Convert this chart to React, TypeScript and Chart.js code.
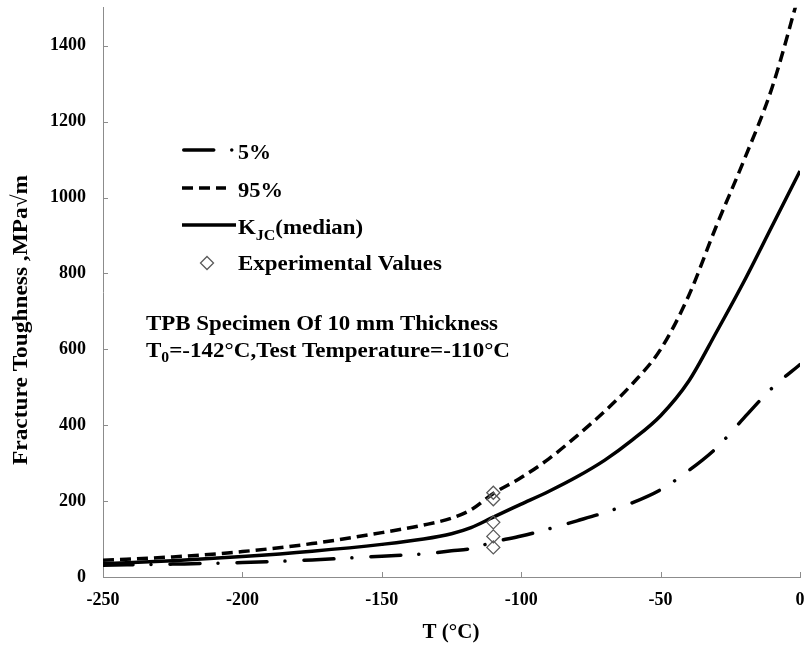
import React, { useEffect, useRef } from 'react';
import { Chart, registerables } from 'chart.js';

Chart.register(...registerables);

// ---- data ----
const temperatures = [-250, -225, -200, -175, -150, -135, -125, -118, -110, -100, -90, -80, -70, -60, -50, -40, -30, -20, -10, 0];
const k5 = [31, 34, 38, 45, 55, 61, 69, 75, 92, 108, 127, 148, 170, 196, 230, 280, 340, 420, 498, 560];
const k95 = [44, 53, 67, 88, 117, 137, 155, 177, 220, 262, 312, 372, 437, 510, 600, 740, 925, 1100, 1290, 1545];
const kMedian = [35, 43, 54, 68, 86, 100, 114, 130, 158, 192, 226, 264, 308, 362, 425, 515, 645, 780, 925, 1070];
const expTemps = [-110, -110, -110, -110, -110];
const expValues = [222, 205, 144, 107, 78];

const xTicks = [-250, -200, -150, -100, -50, 0];
const yTicks = [0, 200, 400, 600, 800, 1000, 1200, 1400];

const seriesNames = ['5%', '95%', 'KJC(median)', 'Experimental Values'];
const xTitle = 'T (°C)';
const yTitle = 'Fracture Toughness ,MPa√m';
const noteLine1 = 'TPB Specimen Of 10 mm Thickness';
const noteLine2 = ['T', '0', '=-142°C,Test Temperature=-110°C'];

const FONT = '"Liberation Serif", "Times New Roman", serif';
const DASH_DOT = [30, 18, 0.01, 19];
const DASHED = [11, 6];
const LW = 3.5;

type Seg = { text: string; size: number; dy: number };

function drawSegs(ctx: CanvasRenderingContext2D, segs: Seg[], x: number, y: number, target?: number, align: 'left' | 'center' = 'left') {
  let total = 0;
  const widths = segs.map((s) => {
    ctx.font = `bold ${s.size}px ${FONT}`;
    const w = ctx.measureText(s.text).width;
    total += w;
    return w;
  });
  const sx = target ? target / total : 1;
  let cx = align === 'center' ? x - (total * sx) / 2 : x;
  segs.forEach((s, i) => {
    ctx.save();
    ctx.font = `bold ${s.size}px ${FONT}`;
    ctx.textAlign = 'left';
    ctx.textBaseline = 'alphabetic';
    ctx.fillStyle = '#000';
    ctx.translate(cx, y + s.dy);
    ctx.scale(sx, 1);
    ctx.fillText(s.text, 0, 0);
    ctx.restore();
    cx += widths[i] * sx;
  });
}

const decorPlugin = {
  id: 'decor',
  beforeDatasetsDraw(chart: any) {
    const { ctx, chartArea, scales } = chart;
    const x = scales.x;
    const y = scales.y;
    ctx.save();
    ctx.strokeStyle = '#8c8c8c';
    ctx.lineWidth = 1;
    xTicks.forEach((v) => {
      const px = Math.round(x.getPixelForValue(v)) + 0.5;
      ctx.beginPath();
      ctx.moveTo(px, chartArea.bottom);
      ctx.lineTo(px, chartArea.bottom - 5);
      ctx.stroke();
    });
    yTicks.forEach((v) => {
      const py = Math.round(y.getPixelForValue(v)) + 0.5;
      ctx.beginPath();
      ctx.moveTo(chartArea.left, py);
      ctx.lineTo(chartArea.left + 5, py);
      ctx.stroke();
    });
    ctx.restore();
  },
  afterDraw(chart: any) {
    const ctx: CanvasRenderingContext2D = chart.ctx;
    ctx.save();

    // ---- legend ----
    const lx0 = 182;
    ctx.strokeStyle = '#000';
    ctx.lineWidth = LW;
    // 5%
    ctx.save();
    ctx.setLineDash(DASH_DOT);
    ctx.lineCap = 'round';
    ctx.beginPath();
    ctx.moveTo(lx0 + 1.75, 150);
    ctx.lineTo(233, 150);
    ctx.stroke();
    ctx.restore();
    // 95%
    ctx.save();
    ctx.setLineDash(DASHED);
    ctx.lineCap = 'butt';
    ctx.beginPath();
    ctx.moveTo(lx0, 188);
    ctx.lineTo(226, 188);
    ctx.stroke();
    ctx.restore();
    // median
    ctx.beginPath();
    ctx.moveTo(lx0, 225);
    ctx.lineTo(236, 225);
    ctx.stroke();
    // diamond
    ctx.save();
    ctx.strokeStyle = '#5a5a5a';
    ctx.lineWidth = 1.3;
    ctx.beginPath();
    ctx.moveTo(207, 263 - 6.5);
    ctx.lineTo(207 + 6.5, 263);
    ctx.lineTo(207, 263 + 6.5);
    ctx.lineTo(207 - 6.5, 263);
    ctx.closePath();
    ctx.stroke();
    ctx.restore();

    drawSegs(ctx, [{ text: seriesNames[0], size: 20, dy: 0 }], 238, 159, 33);
    drawSegs(ctx, [{ text: seriesNames[1], size: 20, dy: 0 }], 238, 197, 45);
    drawSegs(
      ctx,
      [
        { text: 'K', size: 20, dy: 0 },
        { text: 'JC', size: 14, dy: 6 },
        { text: '(median)', size: 20, dy: 0 },
      ],
      238,
      234,
      125
    );
    drawSegs(ctx, [{ text: seriesNames[3], size: 20, dy: 0 }], 238, 270, 204);

    // ---- annotation ----
    drawSegs(ctx, [{ text: noteLine1, size: 22, dy: 0 }], 146, 330, 352);
    drawSegs(
      ctx,
      [
        { text: noteLine2[0], size: 22, dy: 0 },
        { text: noteLine2[1], size: 15, dy: 5 },
        { text: noteLine2[2], size: 22, dy: 0 },
      ],
      146,
      357,
      364
    );

    // ---- axis titles ----
    drawSegs(ctx, [{ text: xTitle, size: 21, dy: 0 }], 451, 638, undefined, 'center');
    ctx.save();
    ctx.translate(27, 320);
    ctx.rotate(-Math.PI / 2);
    drawSegs(ctx, [{ text: yTitle, size: 22, dy: 0 }], 0, 0, 290, 'center');
    ctx.restore();

    ctx.restore();
  },
};

export default function App() {
  const canvasRef = useRef<HTMLCanvasElement | null>(null);

  useEffect(() => {
    document.body.style.margin = '0';
    const canvas = canvasRef.current;
    if (!canvas) return;

    const pts = (ys: number[]) => temperatures.map((t, i) => ({ x: t, y: ys[i] }));
    const tickFont = { family: FONT, size: 18, weight: 'bold' as const };

    const chart = new Chart(canvas, {
      type: 'scatter',
      data: {
        datasets: [
          {
            label: seriesNames[3],
            data: expTemps.map((t, i) => ({ x: t, y: expValues[i] })),
            pointStyle: 'rectRot',
            pointRadius: 6.5,
            borderColor: '#5a5a5a',
            borderWidth: 1.3,
            backgroundColor: 'rgba(255,255,255,0)',
            showLine: false,
            order: 0,
          },
          {
            label: seriesNames[0],
            data: pts(k5),
            showLine: true,
            borderColor: '#000',
            borderWidth: LW,
            borderDash: DASH_DOT,
            borderCapStyle: 'round',
            borderJoinStyle: 'round',
            pointRadius: 0,
            cubicInterpolationMode: 'monotone',
            fill: false,
            order: 3,
          },
          {
            label: seriesNames[1],
            data: pts(k95),
            showLine: true,
            borderColor: '#000',
            borderWidth: LW,
            borderDash: DASHED,
            borderCapStyle: 'butt',
            pointRadius: 0,
            cubicInterpolationMode: 'monotone',
            fill: false,
            order: 2,
          },
          {
            label: seriesNames[2],
            data: pts(kMedian),
            showLine: true,
            borderColor: '#000',
            borderWidth: LW,
            pointRadius: 0,
            cubicInterpolationMode: 'monotone',
            fill: false,
            order: 1,
          },
        ],
      } as any,
      options: {
        responsive: false,
        animation: false,
        devicePixelRatio: 1,
        layout: { padding: { top: 4, right: 9, left: 0, bottom: 0 } },
        plugins: {
          legend: { display: false },
          tooltip: { enabled: false },
        },
        scales: {
          x: {
            type: 'linear',
            min: -250,
            max: 0,
            grid: { display: false, drawTicks: false },
            border: { display: true, color: '#8c8c8c', width: 1 },
            ticks: {
              padding: 13,
              font: tickFont,
              color: '#000',
              maxRotation: 0,
              autoSkip: false,
              callback: (v: any) => String(v),
            },
            afterBuildTicks: (s: any) => {
              s.ticks = xTicks.map((v) => ({ value: v }));
            },
            afterFit: (s: any) => {
              s.height = 72;
              s.paddingLeft = 0;
              s.paddingRight = 0;
              s.paddingTop = 0;
              s.paddingBottom = 0;
            },
          },
          y: {
            type: 'linear',
            min: 0,
            max: 1500,
            grid: { display: false, drawTicks: false },
            border: { display: true, color: '#8c8c8c', width: 1 },
            ticks: {
              padding: 17,
              font: tickFont,
              color: '#000',
              autoSkip: false,
              callback: (v: any) => String(v),
            },
            afterBuildTicks: (s: any) => {
              s.ticks = yTicks.map((v) => ({ value: v }));
            },
            afterFit: (s: any) => {
              s.width = 103;
              s.paddingLeft = 0;
              s.paddingRight = 0;
              s.paddingTop = 0;
              s.paddingBottom = 0;
            },
          },
        },
      } as any,
      plugins: [decorPlugin],
    });

    return () => chart.destroy();
  }, []);

  return (
    <div style={{ width: 809, height: 649, position: 'relative', background: '#fff' }}>
      <canvas ref={canvasRef} width={809} height={649} style={{ display: 'block' }} />
    </div>
  );
}
